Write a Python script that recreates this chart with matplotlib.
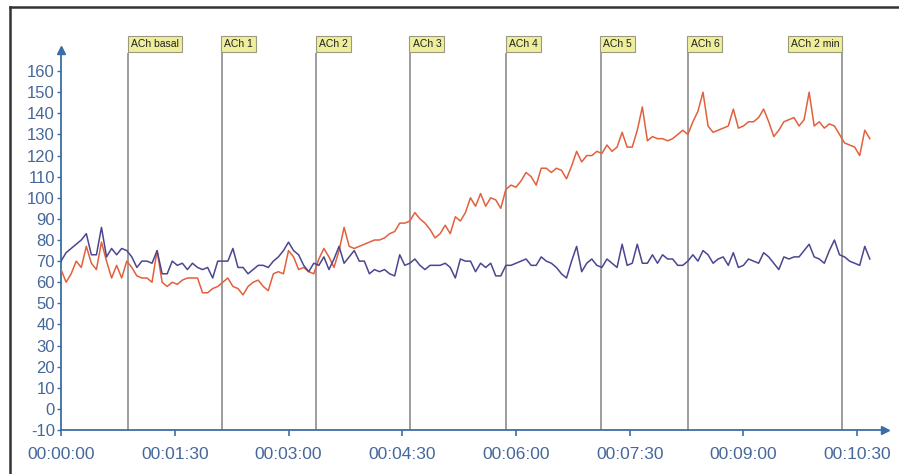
import matplotlib.pyplot as plt
from matplotlib.lines import Line2D
from matplotlib.ticker import FuncFormatter, MultipleLocator
import numpy as np

plt.rcParams['font.family'] = ['Liberation Sans', 'DejaVu Sans']
plt.rcParams['axes.unicode_minus'] = False

# one sample every 4 s
SAMPLE_STEP = 4

red_values = [
    66, 60, 64, 70, 67, 77, 69, 66, 79, 70, 62, 68, 62, 70, 67, 63, 62, 62, 60, 75,
    60, 58, 60, 59, 61, 62, 62, 62, 55, 55, 57, 58, 60, 62, 58, 57, 54, 58, 60, 61,
    58,
    56, 64, 65, 64, 75, 72, 66, 67, 65, 64, 71, 76, 72, 67, 75, 86, 77, 76, 77, 78,
    79, 80, 80, 81, 83, 84, 88, 88, 89, 93, 90, 88, 85, 81, 83, 87, 83, 91, 89, 93,
    100, 96, 102, 96, 100, 99, 95, 104, 106, 105, 108, 112, 110, 106, 114, 114, 112, 114, 113, 109,
    115, 122, 117, 120, 120, 122, 121, 125, 122, 124, 131, 124, 124, 132, 143, 127, 129, 128, 128,
    127, 128, 130, 132, 130, 136, 141, 150, 134, 131, 132, 133, 134, 142, 133, 134, 136, 136, 138, 142,
    136, 129, 132, 136, 137, 138, 134, 137, 150, 134, 136, 133, 135, 134, 130, 126, 125, 124, 120, 132,
    128,
]

blue_values = [
    70, 74, 76, 78, 80, 83, 73, 73, 86, 72, 76, 73, 76, 75, 72, 67, 70, 70, 69, 75,
    64, 64, 70, 68, 69, 66, 69, 67, 66, 67, 62, 70, 70, 70, 76, 67, 67, 64, 66, 68,
    68,
    67, 70, 72, 75, 79, 75, 73, 68, 65, 69, 68, 72, 66, 71, 77, 69, 72, 75, 70, 70,
    64, 66, 65, 66, 64, 63, 73, 68, 69, 71, 68, 66, 68, 68, 68, 69, 67, 62, 71, 70,
    70, 65, 69, 67, 69, 63, 63, 68, 68, 69, 70, 71, 68, 68, 72, 70, 69, 67, 64, 62,
    70, 77, 65, 69, 71, 68, 67, 71, 69, 67, 78, 68, 69, 78, 69, 69, 73, 69, 73,
    71, 71, 68, 68, 70, 73, 70, 75, 73, 69, 71, 72, 68, 74, 67, 68, 71, 70, 69, 74,
    72, 69, 66, 72, 71, 72, 72, 75, 78, 72, 71, 69, 75, 80, 73, 72, 70, 69, 68, 77,
    71,
]

event_labels = ["ACh basal", "ACh 1", "ACh 2", "ACh 3", "ACh 4", "ACh 5", "ACh 6", "ACh 2 min"]
event_times = [53, 127, 202, 276, 352, 427, 496, 618]

RED = "#e2603c"
BLUE = "#4a4690"
AXIS_BLUE = "#3b6ea5"
LABEL_BLUE = "#46679a"


def hms(x, pos):
    s = int(round(x))
    return f"{s // 3600:02d}:{s // 60 % 60:02d}:{s % 60:02d}"


def draw_figure():
    fig = plt.figure(figsize=(8.99, 4.74), dpi=100)
    ax = fig.add_axes([0.0679, 0.0928, 0.9165, 0.8017])

    t_red = np.arange(len(red_values)) * SAMPLE_STEP
    t_blue = np.arange(len(blue_values)) * SAMPLE_STEP
    ax.plot(t_red, red_values, color=RED, linewidth=1.1, zorder=3)
    ax.plot(t_blue, blue_values, color=BLUE, linewidth=1.1, zorder=3)

    ax.set_xlim(0, 652)
    ax.set_ylim(-10, 170)

    # event markers with yellow tags above the plot
    ax.vlines(event_times, -10, 168.7, color="#8c8c8c", linewidth=1.2, zorder=2, clip_on=False)
    for i, (lab, t) in enumerate(zip(event_labels, event_times)):
        last = i == len(event_labels) - 1
        ax.annotate(
            lab, xy=(t, 172.9), xytext=(-2 if last else 2, 0), textcoords='offset points',
            ha='right' if last else 'left', va='center', fontsize=7.5, color="#222222",
            annotation_clip=False,
            bbox=dict(boxstyle='square,pad=0.3', facecolor="#eeee9c", edgecolor="#9a9a80", linewidth=0.8),
        )

    for side in ['top', 'right']:
        ax.spines[side].set_visible(False)
    for side in ['left', 'bottom']:
        ax.spines[side].set_color(AXIS_BLUE)
        ax.spines[side].set_linewidth(1.3)
    ax.plot(1, 0, '>', color=AXIS_BLUE, markersize=6, transform=ax.transAxes, clip_on=False)
    ax.plot(0, 1, '^', color=AXIS_BLUE, markersize=6, transform=ax.transAxes, clip_on=False)

    ax.xaxis.set_major_locator(MultipleLocator(90))
    ax.xaxis.set_major_formatter(FuncFormatter(hms))
    ax.set_xticks(np.arange(0, 631, 90))
    ax.set_yticks(np.arange(-10, 161, 10))
    ax.tick_params(axis='x', length=4, width=1.2, color=AXIS_BLUE, labelcolor=LABEL_BLUE,
                   labelsize=12.5, pad=8)
    ax.tick_params(axis='y', length=3, width=1.0, color=AXIS_BLUE, labelcolor=LABEL_BLUE,
                   labelsize=12, pad=1.5)

    # outer frame: left and top edges only
    fx = 10 / 899
    fy = 1 - 7 / 474
    fig.add_artist(Line2D([fx, fx], [0, fy], transform=fig.transFigure, color="#333333", linewidth=1.8))
    fig.add_artist(Line2D([fx, 1], [fy, fy], transform=fig.transFigure, color="#333333", linewidth=1.8))

    fig.savefig("out.png", dpi=100)


if __name__ == "__main__":
    draw_figure()
